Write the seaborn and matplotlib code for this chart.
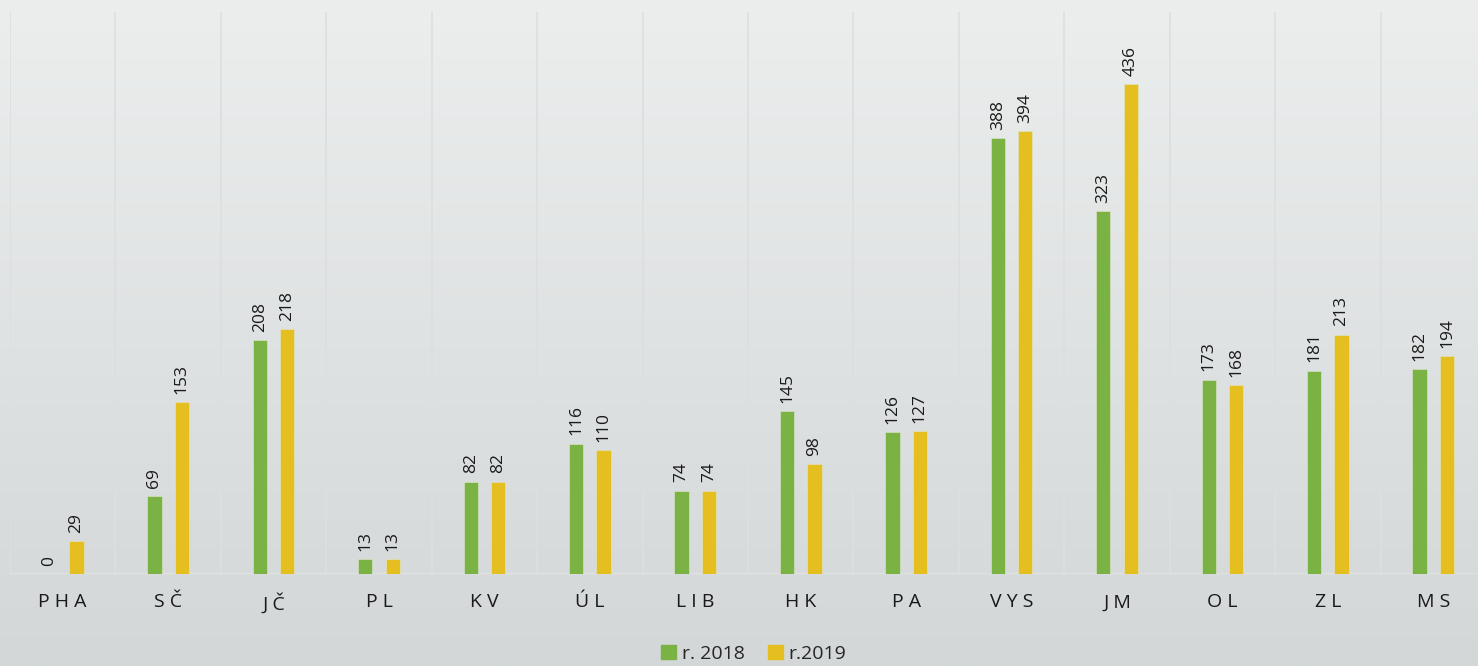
import numpy as np
import pandas as pd
import matplotlib as mpl
import matplotlib.pyplot as plt
import seaborn as sns
from matplotlib.colors import LinearSegmentedColormap
from matplotlib.patches import Patch

# data
regions = ['PHA', 'SČ', 'JČ', 'PL', 'KV', 'ÚL', 'LIB', 'HK', 'PA', 'VYS', 'JM', 'OL', 'ZL', 'MS']
vals_2018 = [0, 69, 208, 13, 82, 116, 74, 145, 126, 388, 323, 173, 181, 182]
vals_2019 = [29, 153, 218, 13, 82, 110, 74, 98, 127, 394, 436, 168, 213, 194]
series = ['r. 2018', 'r.2019']

green = '#7ab243'
yellow = '#e4bf1f'

sns.set_theme(style='white')
plt.rcParams['font.family'] = ['Open Sans', 'DejaVu Sans']

df = pd.DataFrame({
    'kraj': regions * 2,
    'pocet': vals_2018 + vals_2019,
    'rok': [series[0]] * len(regions) + [series[1]] * len(regions),
})

fig = plt.figure(figsize=(14.78, 6.66), dpi=100)

# gradient background (light top, darker bottom)
bg = fig.add_axes([0, 0, 1, 1], zorder=-10)
cmap_bg = LinearSegmentedColormap.from_list('bg', ['#eceeee', '#d3d7d7'])
bg.imshow(np.linspace(0, 1, 256).reshape(-1, 1), aspect='auto', cmap=cmap_bg,
          extent=[0, 1, 0, 1])
bg.axis('off')

# plot area runs a bit past the right edge of the image, as in the original
ax = fig.add_axes([10 / 1478, 92 / 666, 1476 / 1478, 562 / 666])
ax.set_facecolor('none')

sns.barplot(data=df, x='kraj', y='pocet', hue='rok', palette=[green, yellow],
            width=0.52, gap=0.48, ax=ax, legend=False, saturation=1,
            edgecolor='#dfe6cf', linewidth=0.4)

ax.set_ylim(0, 500)
ax.set_xlim(-0.5, len(regions) - 0.5)

# separators between categories
for b in np.arange(-0.5, len(regions), 1.0):
    ax.axvline(b, color='#dcdfdf', lw=1.2, zorder=0)
ax.axhline(0, color='#e3e5e5', lw=2, zorder=0)

for cont in ax.containers:
    for bar in cont:
        h = bar.get_height()
        ax.annotate(f'{int(h)}', (bar.get_x() + bar.get_width() / 2, h),
                    xytext=(0, 6), textcoords='offset points',
                    ha='center', va='bottom', rotation=90,
                    fontsize=12.5, color='#1a1a1a')

for s in ax.spines.values():
    s.set_visible(False)
ax.set_yticks([])
ax.set_xlabel('')
ax.set_ylabel('')
ax.set_xticks(range(len(regions)))
ax.set_xticklabels([' '.join(r) for r in regions], fontsize=14, color='#1a1a1a')
ax.tick_params(axis='x', length=0, pad=14)

handles = [Patch(color=green, label=series[0]), Patch(color=yellow, label=series[1])]
fig.legend(handles=handles, loc='lower center', bbox_to_anchor=(0.51, -0.022),
           ncol=2, frameon=False, fontsize=14, handlelength=0.75, handleheight=0.75,
           handletextpad=0.3, columnspacing=1.2)

fig.savefig('out.png', dpi=100)
